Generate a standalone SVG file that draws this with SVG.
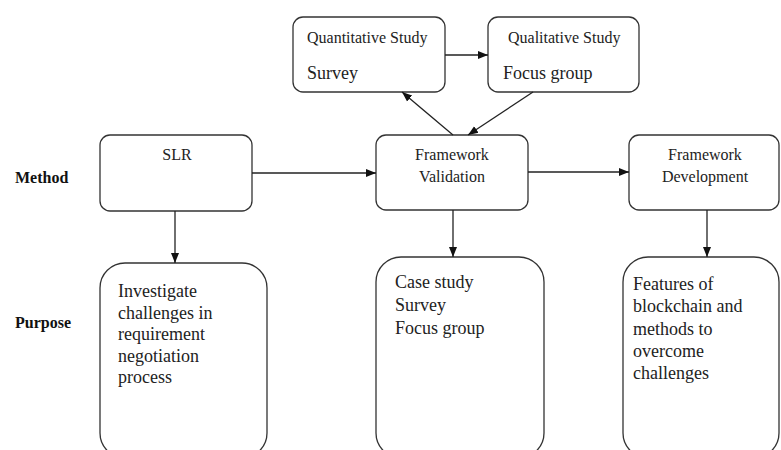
<svg xmlns="http://www.w3.org/2000/svg" width="781" height="450" viewBox="0 0 781 450">
<defs>
<marker id="ah" markerUnits="userSpaceOnUse" markerWidth="10" markerHeight="10" viewBox="0 0 10 10" refX="10" refY="5" orient="auto">
<path d="M0,1 L10,5 L0,9 Z" fill="#111"/>
</marker>
</defs>
<style>
.box{fill:#fff;stroke:#333;stroke-width:1.3}
.t{font-family:"Liberation Serif","Times New Roman",serif;fill:#222}
.s16{font-size:16px}
.s18{font-size:18px}
.lbl{font-family:"Liberation Serif","Times New Roman",serif;font-size:16px;font-weight:bold;fill:#111}
.c{stroke:#222;stroke-width:1.3;fill:none;marker-end:url(#ah)}
</style>
<rect width="781" height="450" fill="#fff"/>
<text class="lbl" x="15" y="183">Method</text>
<text class="lbl" x="15" y="328">Purpose</text>

<g id="quant">
<rect class="box" x="293" y="17" width="152" height="75" rx="10"/>
<text class="t s16" x="307" y="43">Quantitative Study</text>
<text class="t s18" x="307" y="79">Survey</text>
</g>
<g id="qual">
<rect class="box" x="488" y="17" width="151" height="75" rx="10"/>
<text class="t s16" x="508" y="43">Qualitative Study</text>
<text class="t s18" x="503" y="79">Focus group</text>
</g>
<g id="slr">
<rect class="box" x="100" y="135" width="152" height="76" rx="10"/>
<text class="t s16" x="177" y="160" text-anchor="middle">SLR</text>
</g>
<g id="fv">
<rect class="box" x="376" y="135" width="152" height="75" rx="10"/>
<text class="t s16" x="452" y="160" text-anchor="middle">Framework</text>
<text class="t s16" x="452" y="182" text-anchor="middle">Validation</text>
</g>
<g id="fd">
<rect class="box" x="629" y="135" width="150" height="75" rx="10"/>
<text class="t s16" x="705" y="160" text-anchor="middle">Framework</text>
<text class="t s16" x="705" y="182" text-anchor="middle">Development</text>
</g>
<g id="p1">
<rect class="box" x="100" y="263" width="167" height="195" rx="25"/>
<text class="t s18" x="118" y="297">Investigate</text>
<text class="t s18" x="118" y="318.5">challenges in</text>
<text class="t s18" x="118" y="340">requirement</text>
<text class="t s18" x="118" y="361.5">negotiation</text>
<text class="t s18" x="118" y="383">process</text>
</g>
<g id="p2">
<rect class="box" x="376" y="257" width="168" height="201" rx="25"/>
<text class="t s18" x="395" y="288">Case study</text>
<text class="t s18" x="395" y="311">Survey</text>
<text class="t s18" x="395" y="334">Focus group</text>
</g>
<g id="p3">
<rect class="box" x="623" y="257" width="156" height="201" rx="25"/>
<text class="t s18" x="633" y="290">Features of</text>
<text class="t s18" x="633" y="312">blockchain and</text>
<text class="t s18" x="633" y="335">methods to</text>
<text class="t s18" x="633" y="357">overcome</text>
<text class="t s18" x="633" y="379">challenges</text>
</g>

<g id="connectors">
<line class="c" x1="252" y1="173" x2="376" y2="173"/>
<line class="c" x1="528" y1="172" x2="629" y2="172"/>
<line class="c" x1="445" y1="55" x2="488" y2="55"/>
<line class="c" x1="453" y1="135" x2="402" y2="92"/>
<line class="c" x1="533" y1="92" x2="468" y2="135"/>
<line class="c" x1="175" y1="211" x2="175" y2="263"/>
<line class="c" x1="453" y1="210" x2="453" y2="257"/>
<line class="c" x1="707" y1="210" x2="707" y2="257"/>
</g>
</svg>
